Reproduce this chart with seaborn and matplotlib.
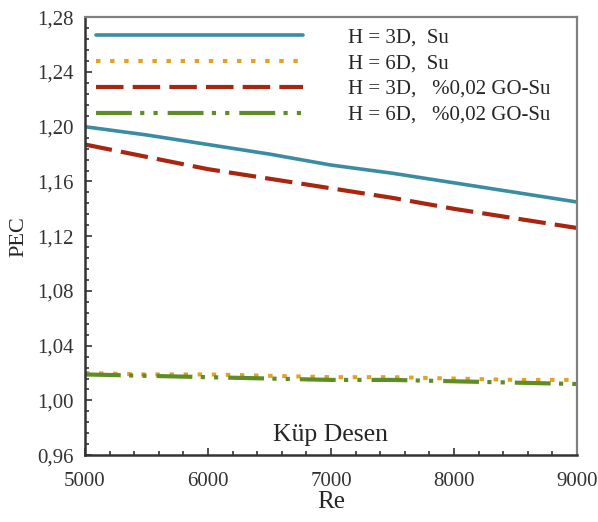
import numpy as np
import pandas as pd
import seaborn as sns
import matplotlib.pyplot as plt
from matplotlib.ticker import MultipleLocator

# Reynolds numbers and PEC values
re_vals = [5000, 5500, 6000, 6500, 7000, 7500, 8000, 8500, 9000]
pec_3d_su = [1.200, 1.194, 1.187, 1.180, 1.172, 1.166, 1.159, 1.152, 1.145]
pec_6d_su = [1.020, 1.019, 1.019, 1.018, 1.017, 1.017, 1.016, 1.015, 1.015]
pec_3d_go = [1.187, 1.178, 1.169, 1.162, 1.155, 1.148, 1.140, 1.133, 1.126]
pec_6d_go = [1.019, 1.018, 1.017, 1.016, 1.015, 1.015, 1.014, 1.013, 1.012]

labels = ["H = 3D,  Su", "H = 6D,  Su", "H = 3D,   %0,02 GO-Su", "H = 6D,   %0,02 GO-Su"]
y_ticks = [0.96, 1.00, 1.04, 1.08, 1.12, 1.16, 1.20, 1.24, 1.28]
y_tick_labels = ["0,96", "1,00", "1,04", "1,08", "1,12", "1,16", "1,20", "1,24", "1,28"]
x_ticks = [5000, 6000, 7000, 8000, 9000]

sns.set_theme(style="ticks")
plt.rcParams['font.family'] = ['Liberation Serif', 'DejaVu Serif']

fig = plt.figure(figsize=(5.98, 5.22), dpi=100)
ax = fig.add_axes([0.142, 0.128, 0.823, 0.839])

styles = [
    dict(color="#3a8ca3", linewidth=2.6, linestyle="-"),
    dict(color="#e3a21f", linewidth=2.9, linestyle=(0, (1.1, 2.4))),
    dict(color="#a8260f", linewidth=3.0, linestyle=(0, (6.6, 2.2))),
    dict(color="#5e8c25", linewidth=3.0, linestyle=(0, (8.6, 2.0, 1.0, 2.2, 1.0, 2.4))),
]
series = [pec_3d_su, pec_6d_su, pec_3d_go, pec_6d_go]

for vals, lab, st in zip(series, labels, styles):
    sns.lineplot(x=re_vals, y=vals, ax=ax, label=lab, **st)

ax.set_xlim(5000, 9000)
ax.set_ylim(0.96, 1.28)
ax.set_xticks(x_ticks)
ax.set_xticklabels([str(t) for t in x_ticks])
ax.set_yticks(y_ticks)
ax.set_yticklabels(y_tick_labels)
ax.xaxis.set_minor_locator(MultipleLocator(200))
ax.yaxis.set_minor_locator(MultipleLocator(0.008))
ax.tick_params(which="both", direction="in", colors="#333333", labelsize=15, width=1.2)
ax.tick_params(which="major", length=5)
ax.tick_params(which="minor", length=3)
ax.tick_params(axis="x", pad=12)
ax.tick_params(axis="y", pad=8)

for side in ["left", "bottom"]:
    ax.spines[side].set_color("#333333")
    ax.spines[side].set_linewidth(1.8)
for side in ["top", "right"]:
    ax.spines[side].set_visible(True)
    ax.spines[side].set_color("#808080")
    ax.spines[side].set_linewidth(1.6)

ax.set_xlabel("Re", fontsize=18, labelpad=0)
ax.set_ylabel("PEC", fontsize=16, labelpad=6)
ax.text(7000, 0.9745, "Küp Desen", fontsize=18.5, ha="center", va="center")

leg = ax.legend(loc="upper left", frameon=False, fontsize=15, handlelength=9.95,
                handletextpad=2.15, labelspacing=0.3, borderaxespad=0.0,
                bbox_to_anchor=(0.006, 0.995))

fig.savefig("out.png", dpi=100)
